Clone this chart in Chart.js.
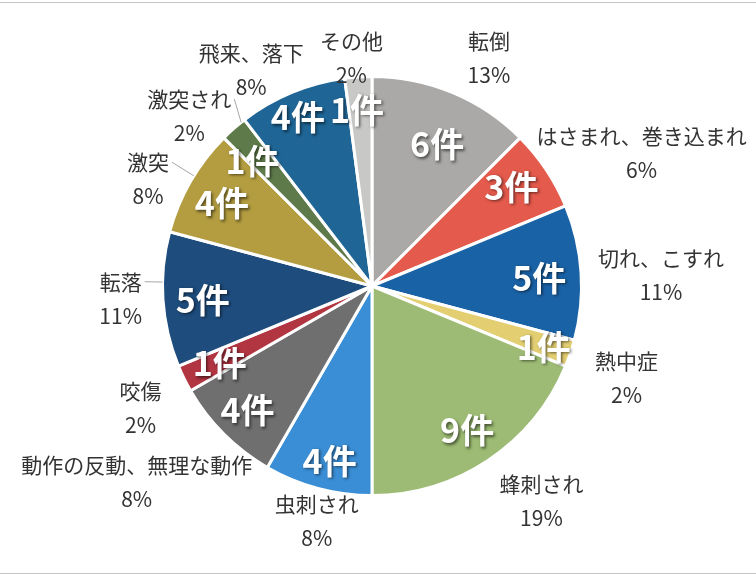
<!DOCTYPE html>
<html lang="ja">
<head>
    <meta charset="UTF-8">
    <meta name="viewport" content="width=device-width, initial-scale=1.0">
    <title>災害の種類別件数</title>
    <script src="https://cdn.jsdelivr.net/npm/chart.js"></script>
    <style>
        html, body { margin: 0; padding: 0; background: #fff; }
        .container_grafico { position: relative; width: 756px; height: 576px; }
    </style>
</head>
<body>
    <div class="container_grafico">
        <canvas id="graficoPizza"></canvas>
    </div>

    <script>
        // dados
        const categorias = ['転倒', 'はさまれ、巻き込まれ', '切れ、こすれ', '熱中症', '蜂刺され', '虫刺され',
            '動作の反動、無理な動作', '咬傷', '転落', '激突', '激突され', '飛来、落下', 'その他'];
        const quantidades = [6, 3, 5, 1, 9, 4, 4, 1, 5, 4, 1, 4, 1];
        const percentuais = ['13%', '6%', '11%', '2%', '19%', '8%', '8%', '2%', '11%', '8%', '2%', '8%', '2%'];

        const cores = ['#aaa9a7', '#e45a4c', '#1a62a6', '#e3cf72', '#9dbb74', '#3a8ed5', '#6f6f6f',
            '#b23542', '#1e4c7c', '#b49d40', '#5e7a4a', '#1f6697', '#c8c8c6'];

        // ajustes finos das posições dos rótulos (px)
        const ajusteFora = [[24, 8], [-2, 9], [5, 6], [15, 10], [23, 3], [13, -12], [3, 15],
            [-14, 9], [-9, -4], [-14, 21], [-9, 22], [-16, 20], [-4, 27]];
        const ajusteDentro = [[1, 13], [0, -6], [0, 3], [13, 7], [2, 5], [1, 13], [-6, 6],
            [-2, 3], [-2, 3], [-5, 1], [-9, 1], [-10, -14], [-4, -9]];
        const comLinha = [8, 9, 10]; // rótulos com linha guia

        const fonte = '"Noto Sans CJK JP", "Noto Sans", sans-serif';

        const rotulosPlugin = {
            id: 'rotulos',
            beforeDraw(chart) {
                // linhas da moldura (topo e base)
                const ctx = chart.ctx;
                ctx.save();
                ctx.strokeStyle = '#c4c4c4';
                ctx.lineWidth = 1;
                ctx.beginPath();
                ctx.moveTo(0, 2.5); ctx.lineTo(chart.width, 2.5);
                ctx.moveTo(0, 573.5); ctx.lineTo(chart.width, 573.5);
                ctx.stroke();
                ctx.restore();
            },
            afterDatasetsDraw(chart) {
                const ctx = chart.ctx;
                const arcos = chart.getDatasetMeta(0).data;

                arcos.forEach((arco, i) => {
                    const { x, y, startAngle, endAngle, outerRadius } =
                        arco.getProps(['x', 'y', 'startAngle', 'endAngle', 'outerRadius'], true);
                    const meio = (startAngle + endAngle) / 2;
                    const dx = Math.cos(meio), dy = Math.sin(meio);

                    // rótulo de fora: nome + %
                    ctx.save();
                    ctx.font = '21px ' + fonte;
                    ctx.fillStyle = '#333333';
                    ctx.textAlign = 'center';
                    ctx.textBaseline = 'middle';
                    const w = Math.max(ctx.measureText(categorias[i]).width, ctx.measureText(percentuais[i]).width);
                    const h = 68;
                    const ax = x + dx * (outerRadius + 12);
                    const ay = y + dy * (outerRadius + 12);
                    const cx = ax + dx * w / 2 + ajusteFora[i][0];
                    const cy = ay + dy * h / 2 + ajusteFora[i][1];
                    ctx.fillText(categorias[i], cx, cy - 17);
                    ctx.fillText(percentuais[i], cx, cy + 17);

                    if (comLinha.includes(i)) {
                        const w1 = ctx.measureText(categorias[i]).width;
                        const sx = cx + w1 / 2 + 3, sy = cy - 17;
                        let ang = Math.atan2(sy - y, sx - x);
                        if (ang < startAngle - Math.PI) ang += Math.PI * 2;
                        ang = Math.min(Math.max(ang, startAngle + 0.02), endAngle - 0.02);
                        ctx.strokeStyle = '#a6a6a6';
                        ctx.lineWidth = 1;
                        ctx.beginPath();
                        ctx.moveTo(sx, sy);
                        ctx.lineTo(x + Math.cos(ang) * outerRadius, y + Math.sin(ang) * outerRadius);
                        ctx.stroke();
                    }
                    ctx.restore();

                    // rótulo de dentro: N件
                    ctx.save();
                    ctx.font = 'bold 34px ' + fonte;
                    ctx.fillStyle = '#ffffff';
                    ctx.textAlign = 'center';
                    ctx.textBaseline = 'middle';
                    ctx.shadowColor = 'rgba(0,0,0,0.55)';
                    ctx.shadowBlur = 3;
                    ctx.shadowOffsetX = 1.5;
                    ctx.shadowOffsetY = 1.5;
                    const px = x + dx * outerRadius * 0.8 + ajusteDentro[i][0];
                    const py = y + dy * outerRadius * 0.8 + ajusteDentro[i][1];
                    ctx.fillText(quantidades[i] + '件', px, py);
                    ctx.restore();
                });
            }
        };

        function gerarGraficoPizza() {
            const ctx = document.getElementById('graficoPizza').getContext('2d');
            new Chart(ctx, {
                type: 'pie',
                data: {
                    labels: categorias,
                    datasets: [{
                        data: quantidades,
                        backgroundColor: cores,
                        borderColor: '#ffffff',
                        borderWidth: 3
                    }]
                },
                options: {
                    responsive: true,
                    maintainAspectRatio: false,
                    animation: false,
                    layout: { padding: { top: 75, bottom: 79, left: 161, right: 173 } },
                    plugins: {
                        legend: { display: false },
                        tooltip: { enabled: false }
                    }
                },
                plugins: [rotulosPlugin]
            });
        }

        window.onload = gerarGraficoPizza;
    </script>
</body>
</html>
